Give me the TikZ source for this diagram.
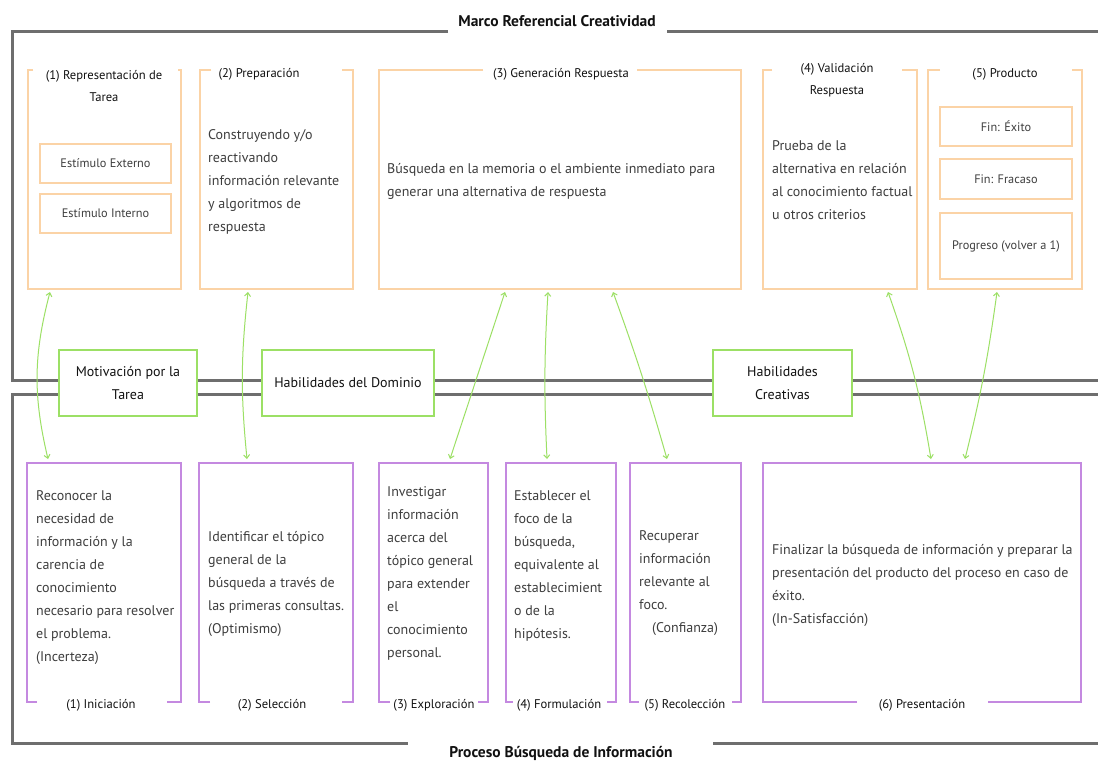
\documentclass[tikz,border=0pt]{standalone}
\usepackage{fontspec}
\setmainfont{PT Sans}
\usetikzlibrary{arrows.meta}
\definecolor{framegray}{HTML}{6E6E6E}
\definecolor{orng}{HTML}{FBD3A6}
\definecolor{purp}{HTML}{C489E0}
\definecolor{grn}{HTML}{9CE065}
\definecolor{bodytxt}{HTML}{3E3E3E}
\definecolor{titletxt}{HTML}{111111}
\begin{document}
\begin{tikzpicture}[x=1pt,y=-1pt,
  frameline/.style={draw=framegray,line width=3pt},
  area/.style={rectangle,inner sep=0pt,outer sep=0pt},
  oline/.style={draw=orng,line width=2pt},
  pline/.style={draw=purp,line width=2pt},
  innerbox/.style={area,draw=orng,line width=2pt,text=bodytxt,font=\fontsize{12.3}{14}\selectfont},
  greenbox/.style={area,draw=grn,line width=2pt,fill=white,text=titletxt,align=center,font=\fontsize{14}{23}\selectfont},
  boxtitle/.style={inner sep=0pt,text=titletxt,align=center,font=\fontsize{12.6}{22}\selectfont},
  bodytext/.style={inner sep=0pt,anchor=north west,text=bodytxt,align=left,font=\fontsize{14}{23}\selectfont},
  frametitle/.style={inner sep=0pt,text=titletxt,font=\bfseries\fontsize{15.5}{17}\selectfont},
  link/.style={draw=grn,line width=1pt,{Straight Barb[length=3.5pt,width=6pt]}-{Straight Barb[length=3.5pt,width=6pt]}}
]
\fill[white] (0,0) rectangle (1098,780);
\useasboundingbox (0,0) rectangle (1098,780);

% frames
\node[frametitle] (ftop) at (557,21) {Marco Referencial Creatividad};
\node[frametitle] (fbot) at (561,753) {Proceso Búsqueda de Información};
\draw[frameline] (448,31) -- (12,31) -- (12,380) -- (1100,380);
\draw[frameline] (667,31) -- (1100,31);
\draw[frameline] (1100,394) -- (12,394) -- (12,743) -- (408,743);
\draw[frameline] (713,743) -- (1100,743);

% orange boxes
\node[area,minimum width=153,minimum height=219] (o1) at (104.5,179.5) {};
\node[area,minimum width=153,minimum height=219] (o2) at (276.5,179.5) {};
\node[area,minimum width=362,minimum height=219] (o3) at (560,179.5) {};
\node[area,minimum width=154,minimum height=219] (o4) at (840,179.5) {};
\node[area,minimum width=154,minimum height=219] (o5) at (1005,179.5) {};
\draw[oline] ([xshift=5]o1.north west) -- (o1.north west) -- (o1.south west) -- (o1.south east) -- (o1.north east) -- ([xshift=-3]o1.north east);
\draw[oline] ([xshift=11]o2.north west) -- (o2.north west) -- (o2.south west) -- (o2.south east) -- (o2.north east) -- ([xshift=-11]o2.north east);
\draw[oline] ([xshift=104]o3.north west) -- (o3.north west) -- (o3.south west) -- (o3.south east) -- (o3.north east) -- ([xshift=-104]o3.north east);
\draw[oline] ([xshift=9]o4.north west) -- (o4.north west) -- (o4.south west) -- (o4.south east) -- (o4.north east) -- ([xshift=-15]o4.north east);
\draw[oline] ([xshift=12]o5.north west) -- (o5.north west) -- (o5.south west) -- (o5.south east) -- (o5.north east) -- ([xshift=-10]o5.north east);

\node[boxtitle] (o1t) at (104,86) {(1) Representación de\\Tarea};
\node[boxtitle] (o2t) at (259,74) {(2) Preparación};
\node[boxtitle] (o3t) at (561,74) {(3) Generación Respuesta};
\node[boxtitle] (o4t) at (837,80) {(4) Validación\\Respuesta};
\node[boxtitle] (o5t) at (1005,74) {(5) Producto};

\node[innerbox,minimum width=131,minimum height=39] (e1) at (105.5,163.5) {Estímulo Externo};
\node[innerbox,minimum width=131,minimum height=39] (e2) at (105.5,213.5) {Estímulo Interno};
\node[innerbox,minimum width=132,minimum height=39] (f1) at (1006,126.5) {Fin: Éxito};
\node[innerbox,minimum width=132,minimum height=40] (f2) at (1006,179) {Fin: Fracaso};
\node[innerbox,minimum width=132,minimum height=66] (f3) at (1006,246) {Progreso (volver a 1)};

\node[bodytext] (o2x) at (208,129) {Construyendo y/o\\reactivando\\información relevante\\y algoritmos de\\respuesta};
\node[bodytext] (o3x) at (387,163) {Búsqueda en la memoria o el ambiente inmediato para\\generar una alternativa de respuesta};
\node[bodytext] (o4x) at (772,140) {Prueba de la\\alternativa en relación\\al conocimiento factual\\u otros criterios};

% purple boxes
\node[area,minimum width=154,minimum height=239] (p1) at (104,582.5) {};
\node[area,minimum width=154,minimum height=239] (p2) at (276,582.5) {};
\node[area,minimum width=109,minimum height=239] (p3) at (433.5,582.5) {};
\node[area,minimum width=110,minimum height=239] (p4) at (561,582.5) {};
\node[area,minimum width=111,minimum height=239] (p5) at (685.5,582.5) {};
\node[area,minimum width=318,minimum height=239] (p6) at (922,582.5) {};
\draw[pline] ([xshift=10]p1.south west) -- (p1.south west) -- (p1.north west) -- (p1.north east) -- (p1.south east) -- ([xshift=-14]p1.south east);
\draw[pline] ([xshift=11]p2.south west) -- (p2.south west) -- (p2.north west) -- (p2.north east) -- (p2.south east) -- ([xshift=-11]p2.south east);
\draw[pline] ([xshift=11]p3.south west) -- (p3.south west) -- (p3.north west) -- (p3.north east) -- (p3.south east) -- ([xshift=-10]p3.south east);
\draw[pline] ([xshift=7]p4.south west) -- (p4.south west) -- (p4.north west) -- (p4.north east) -- (p4.south east) -- ([xshift=-9]p4.south east);
\draw[pline] ([xshift=9]p5.south west) -- (p5.south west) -- (p5.north west) -- (p5.north east) -- (p5.south east) -- ([xshift=-9]p5.south east);
\draw[pline] ([xshift=94]p6.south west) -- (p6.south west) -- (p6.north west) -- (p6.north east) -- (p6.south east) -- ([xshift=-93]p6.south east);

\node[boxtitle] (p1t) at (101,705) {(1) Iniciación};
\node[boxtitle] (p2t) at (272,705) {(2) Selección};
\node[boxtitle] (p3t) at (434,705) {(3) Exploración};
\node[boxtitle] (p4t) at (559,705) {(4) Formulación};
\node[boxtitle] (p5t) at (685,705) {(5) Recolección};
\node[boxtitle] (p6t) at (922,705) {(6) Presentación};

\node[bodytext] (p1x) at (36,490) {Reconocer la\\necesidad de\\información y la\\carencia de\\conocimiento\\necesario para resolver\\el problema.\\(Incerteza)};
\node[bodytext] (p2x) at (208,531) {Identificar el tópico\\general de la\\búsqueda a través de\\las primeras consultas.\\(Optimismo)};
\node[bodytext] (p3x) at (387,486) {Investigar\\información\\acerca del\\tópico general\\para extender\\el\\conocimiento\\personal.};
\node[bodytext] (p4x) at (514,490) {Establecer el\\foco de la\\búsqueda,\\equivalente al\\establecimient\\o de la\\hipótesis.};
\node[bodytext] (p5x) at (639,530) {Recuperar\\información\\relevante al\\foco.\\\hspace*{13pt}(Confianza)};
\node[bodytext] (p6x) at (772,544) {Finalizar la búsqueda de información y preparar la\\presentación del producto del proceso en caso de\\éxito.\\(In-Satisfacción)};

% green boxes
\node[greenbox,minimum width=138,minimum height=66] (g1) at (128,383) {Motivación por la\\Tarea};
\node[greenbox,minimum width=172,minimum height=66] (g2) at (348,383) {Habilidades del Dominio};
\node[greenbox,minimum width=139,minimum height=66] (g3) at (782.5,383) {Habilidades\\Creativas};

% links
\draw[link] ([xshift=22,yshift=-3]o1.south west) to[bend right=14] ([xshift=21,yshift=4]p1.north west);
\draw[link] ([xshift=48,yshift=-3]o2.south west) to[bend right=6] ([xshift=48,yshift=4]p2.north west);
\draw[link] ([xshift=126,yshift=-3]o3.south west) to ([xshift=71,yshift=4]p3.north west);
\draw[link] ([xshift=169,yshift=-3]o3.south west) to[bend right=3] ([xshift=41,yshift=4]p4.north west);
\draw[link] ([xshift=234,yshift=-3]o3.south west) to[bend left=2] ([xshift=37,yshift=4]p5.north west);
\draw[link] ([xshift=125,yshift=-3]o4.south west) to[bend left=5] ([xshift=168,yshift=4]p6.north west);
\draw[link] ([xshift=69,yshift=-3]o5.south west) to[bend left=3] ([xshift=202,yshift=4]p6.north west);
\end{tikzpicture}
\end{document}
